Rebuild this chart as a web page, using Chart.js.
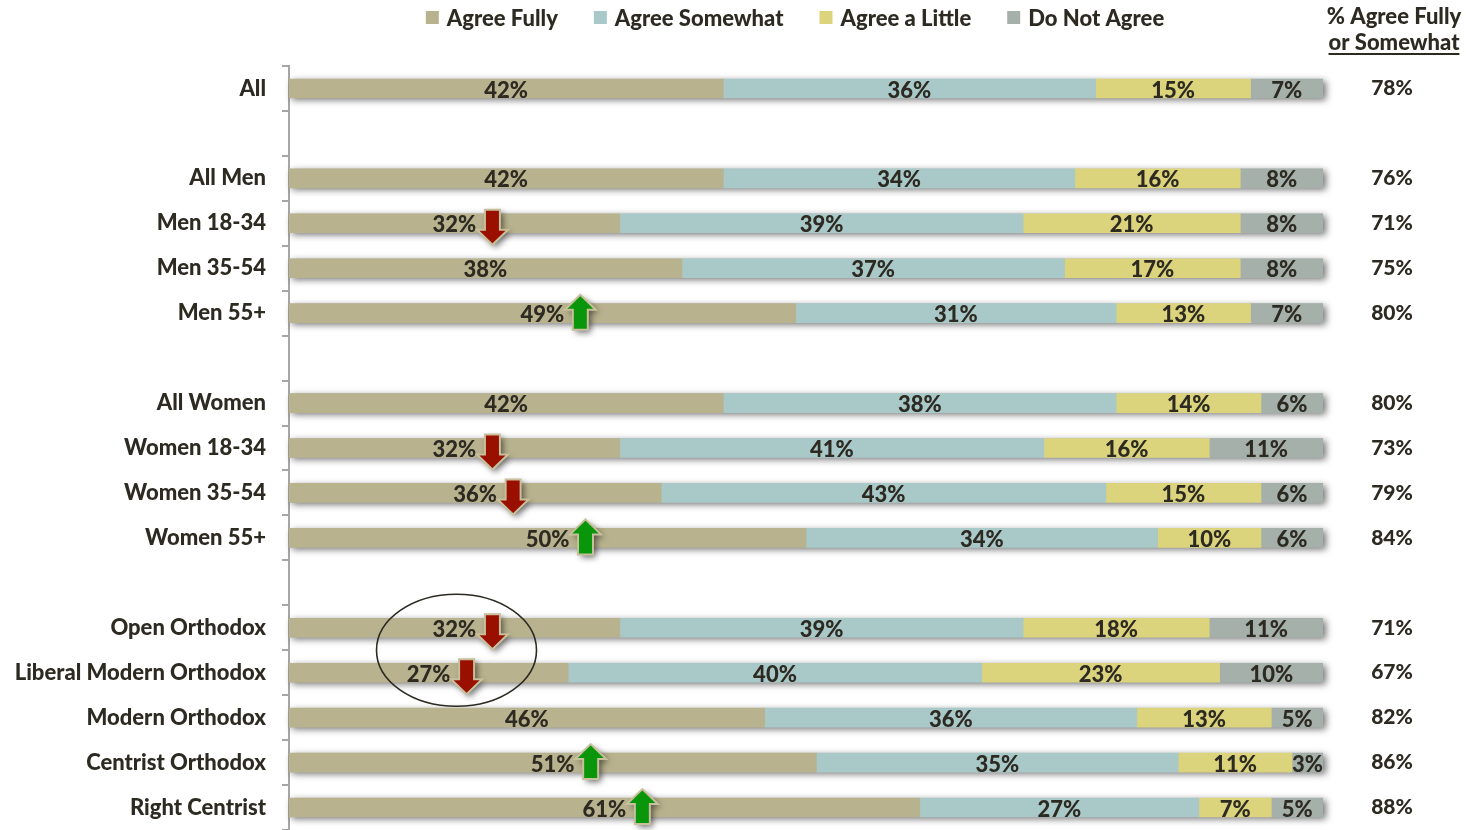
<!DOCTYPE html>
<html>
<head>
<meta charset="utf-8">
<script src="https://cdn.jsdelivr.net/npm/chart.js@4.4.1/dist/chart.umd.min.js"></script>
<style>
  html, body { margin: 0; padding: 0; background: #ffffff; }
  #wrap { width: 1466px; height: 830px; position: relative; }
</style>
</head>
<body>
<div id="wrap"><canvas id="chart" width="1466" height="830"></canvas></div>
<script>
// Survey groups (empty strings are spacer rows between groups)
const categories = ['All', '', 'All Men', 'Men 18-34', 'Men 35-54', 'Men 55+', '',
  'All Women', 'Women 18-34', 'Women 35-54', 'Women 55+', '',
  'Open Orthodox', 'Liberal Modern Orthodox', 'Modern Orthodox', 'Centrist Orthodox', 'Right Centrist'];

const agreeFully    = [42, null, 42, 32, 38, 49, null, 42, 32, 36, 50, null, 32, 27, 46, 51, 61];
const agreeSomewhat = [36, null, 34, 39, 37, 31, null, 38, 41, 43, 34, null, 39, 40, 36, 35, 27];
const agreeLittle   = [15, null, 16, 21, 17, 13, null, 14, 16, 15, 10, null, 18, 23, 13, 11, 7];
const doNotAgree    = [7, null, 8, 8, 8, 7, null, 6, 11, 6, 6, null, 11, 10, 5, 3, 5];

// Right-hand summary column
const agreeFullyOrSomewhat = [78, null, 76, 71, 75, 80, null, 80, 73, 79, 84, null, 71, 67, 82, 86, 88];

// Direction markers shown next to the "Agree Fully" figure
const trend = [null, null, null, 'down', null, 'up', null, null, 'down', 'down', 'up', null, 'down', 'down', null, 'up', 'up'];

const seriesNames = ['Agree Fully', 'Agree Somewhat', 'Agree a Little', 'Do Not Agree'];
const seriesColors = ['#b9b28e', '#a9c8c8', '#dcd37d', '#a5b0ab'];
const summaryTitle = ['% Agree Fully', 'or Somewhat'];

const FONT = 'Lato, "Open Sans", sans-serif';
const WEIGHT = '900';
const INK = '#2d2a22';

function drawArrow(ctx, cx, cy, dir, fill) {
  // Block arrow: shaft 15px wide, head 31px wide, total 35px tall
  const hw = 15.5, sw = 7.5, total = 35, head = 15;
  ctx.save();
  ctx.translate(cx, cy);
  if (dir === 'up') ctx.scale(1, -1);
  const top = -total / 2, bot = total / 2;
  ctx.beginPath();
  ctx.moveTo(-sw, top);
  ctx.lineTo(sw, top);
  ctx.lineTo(sw, bot - head);
  ctx.lineTo(hw, bot - head);
  ctx.lineTo(0, bot);
  ctx.lineTo(-hw, bot - head);
  ctx.lineTo(-sw, bot - head);
  ctx.closePath();
  ctx.restore();
  ctx.save();
  ctx.shadowColor = 'rgba(0,0,0,0.55)';
  ctx.shadowBlur = 6;
  ctx.shadowOffsetX = 3;
  ctx.shadowOffsetY = 3;
  ctx.fillStyle = fill;
  ctx.fill();
  ctx.restore();
  ctx.save();
  ctx.lineWidth = 2;
  ctx.lineJoin = 'miter';
  ctx.strokeStyle = '#c8bf9c';
  ctx.stroke();
  ctx.restore();
}

const barShadows = {
  id: 'barShadows',
  beforeDatasetsDraw(chart) {
    const { ctx, scales: { x, y } } = chart;
    const meta = chart.getDatasetMeta(0);
    ctx.save();
    categories.forEach((c, i) => {
      if (agreeFully[i] == null) return;
      const total = agreeFully[i] + agreeSomewhat[i] + agreeLittle[i] + doNotAgree[i];
      const bar = meta.data[i];
      const h = bar.height;
      const x0 = x.getPixelForValue(0), x1 = x.getPixelForValue(total);
      const yc = y.getPixelForValue(i);
      ctx.shadowColor = 'rgba(0,0,0,0.55)';
      ctx.shadowBlur = 7;
      ctx.shadowOffsetX = 3;
      ctx.shadowOffsetY = 2;
      ctx.fillStyle = seriesColors[3];
      ctx.fillRect(x0, yc - h / 2, x1 - x0, h);
    });
    ctx.restore();
  }
};

const annotations = {
  id: 'annotations',
  afterDatasetsDraw(chart) {
    const { ctx, scales: { x, y } } = chart;
    const series = [agreeFully, agreeSomewhat, agreeLittle, doNotAgree];
    ctx.save();
    ctx.fillStyle = INK;
    ctx.textBaseline = 'middle';

    // Segment values
    ctx.font = WEIGHT + ' 22px ' + FONT;
    ctx.textAlign = 'center';
    categories.forEach((c, i) => {
      if (agreeFully[i] == null) return;
      let start = 0;
      const yc = y.getPixelForValue(i);
      series.forEach(s => {
        const v = s[i];
        const cx = x.getPixelForValue(start + v / 2);
        ctx.fillText(v + '%', cx, yc + 2);
        start += v;
      });
    });

    // Trend arrows
    categories.forEach((c, i) => {
      if (!trend[i]) return;
      const cx = x.getPixelForValue(agreeFully[i] / 2) + 38;
      const yc = y.getPixelForValue(i);
      if (trend[i] === 'down') drawArrow(ctx, cx, yc + 4, 'down', '#9a1000');
      else drawArrow(ctx, cx, yc - 1, 'up', '#0a960a');
    });

    // Summary column
    ctx.fillStyle = INK;
    ctx.font = WEIGHT + ' 21px ' + FONT;
    ctx.textAlign = 'center';
    const colX = 1392;
    categories.forEach((c, i) => {
      if (agreeFullyOrSomewhat[i] == null) return;
      ctx.fillText(agreeFullyOrSomewhat[i] + '%', colX, y.getPixelForValue(i));
    });
    ctx.font = WEIGHT + ' 22px ' + FONT;
    ctx.fillText(summaryTitle[0], colX + 2, 17);
    ctx.fillText(summaryTitle[1], colX + 2, 43);
    const w = ctx.measureText(summaryTitle[1]).width;
    ctx.fillRect(colX + 2 - w / 2, 53, w, 2);

    // Ellipse highlighting the Open / Liberal Modern Orthodox rows
    const ex = x.getPixelForValue(16.2);
    const ey = (y.getPixelForValue(12) + y.getPixelForValue(13)) / 2;
    ctx.beginPath();
    ctx.ellipse(ex, ey, 80, 56, 0, 0, Math.PI * 2);
    ctx.lineWidth = 1.6;
    ctx.strokeStyle = '#2d2a22';
    ctx.stroke();

    // Legend
    ctx.font = WEIGHT + ' 22px ' + FONT;
    ctx.textAlign = 'left';
    const box = 13, gapText = 8, gapItem = 36;
    const widths = seriesNames.map(n => ctx.measureText(n).width);
    const totalW = widths.reduce((a, b) => a + b + box + gapText, 0) + gapItem * (seriesNames.length - 1);
    let lx = 795 - totalW / 2;
    const ly = 18;
    seriesNames.forEach((n, k) => {
      ctx.fillStyle = seriesColors[k];
      ctx.fillRect(lx, ly - 7, box, box);
      ctx.fillStyle = INK;
      ctx.fillText(n, lx + box + gapText, ly + 1);
      lx += box + gapText + widths[k] + gapItem;
    });
    ctx.restore();
  }
};

new Chart(document.getElementById('chart'), {
  type: 'bar',
  data: {
    labels: categories,
    datasets: [agreeFully, agreeSomewhat, agreeLittle, doNotAgree].map((d, k) => ({
      label: seriesNames[k],
      data: d,
      backgroundColor: seriesColors[k],
      borderWidth: 0,
      barThickness: 19
    }))
  },
  options: {
    indexAxis: 'y',
    responsive: false,
    animation: false,
    layout: { padding: { top: 66, right: 143, bottom: 0, left: 0 } },
    plugins: { legend: { display: false }, tooltip: { enabled: false } },
    scales: {
      x: { stacked: true, min: 0, max: 100, display: false },
      y: {
        stacked: true,
        grid: { drawOnChartArea: false, drawTicks: true, tickLength: 7, color: '#a6a6a6', lineWidth: 2 },
        border: { display: true, color: '#a6a6a6', width: 2 },
        ticks: { color: INK, font: { family: FONT, weight: WEIGHT, size: 22 }, padding: 16 },
        afterFit(scale) {
          scale.width = 289;
          scale.paddingTop = 0;
          scale.paddingBottom = 0;
        }
      }
    }
  },
  plugins: [barShadows, annotations]
});
</script>
</body>
</html>
